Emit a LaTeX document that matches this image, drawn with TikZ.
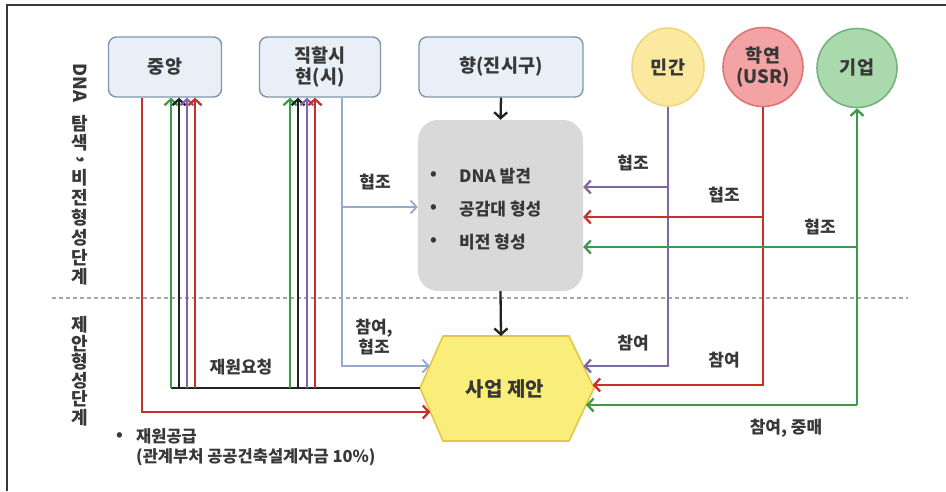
\documentclass[tikz,border=0pt]{standalone}
\usepackage{fontspec}
\setmainfont{Noto Sans CJK KR}
\usepackage{graphicx}
\usetikzlibrary{arrows.meta,shapes.geometric}
\definecolor{cred}{HTML}{C8302C}
\definecolor{cgreen}{HTML}{3E9A48}
\definecolor{cpurple}{HTML}{8066A8}
\definecolor{cblue}{HTML}{93AACA}
\definecolor{cblack}{HTML}{222222}
\definecolor{txt}{HTML}{383838}
\definecolor{boxfill}{HTML}{E9EFF7}
\definecolor{boxdraw}{HTML}{8096AE}
\definecolor{grayfill}{HTML}{D9D9D9}
\definecolor{hexfill}{HTML}{FAEE7A}
\definecolor{hexdraw}{HTML}{E6C34A}
\definecolor{yfill}{HTML}{FBE9A0}
\definecolor{ydraw}{HTML}{F0D67E}
\definecolor{rfill}{HTML}{F3A3A3}
\definecolor{rdraw}{HTML}{DE7474}
\definecolor{gfill}{HTML}{AAD9AE}
\definecolor{gdraw}{HTML}{74B47C}
\begin{document}
\begin{tikzpicture}[x=1pt,y=-1pt,
  boxnode/.style={draw=boxdraw,fill=boxfill,line width=1.4pt,rounded corners=8pt,minimum height=60pt,align=center,font=\bfseries\fontsize{18.5}{21}\selectfont,text=txt,inner sep=0pt},
  circ/.style={ellipse,line width=1.6pt,minimum width=80pt,minimum height=79pt,inner sep=0pt,align=center,font=\bfseries\fontsize{18.5}{21}\selectfont,text=txt},
  lab/.style={font=\bfseries\fontsize{17}{20}\selectfont,text=txt,inner sep=0pt,align=center},
  btext/.style={font=\bfseries\fontsize{17}{19}\selectfont,text=txt,inner sep=0pt,anchor=west},
  vch/.style={font=\bfseries\fontsize{18}{20}\selectfont,text=txt,inner sep=0pt},
  conn/.style={line width=2.3pt},
  arr/.style={-{Straight Barb[length=6pt,width=13pt]}},
]
\useasboundingbox (0,0) rectangle (946,491);
% frame
\draw[line width=2pt,txt] (946,5) -- (7,5) -- (7,491);
% dotted separator
\draw[line width=1.6pt,gray!70,dash pattern=on 4pt off 3pt] (52,298) -- (908,298);

% top nodes
\node[boxnode,minimum width=113pt] (jung) at (165,67) {중앙};
\node[boxnode,minimum width=121pt] (jik) at (320,67) {직할시\\현(시)};
\node[boxnode,minimum width=164pt] (hyang) at (501,67) {향(진시구)};
\node[circ,draw=ydraw,fill=yfill,minimum width=72pt,minimum height=78pt] (min) at (668,67) {민간};
\node[circ,draw=rdraw,fill=rfill] (hak) at (763,67) {학연\\(USR)};
\node[circ,draw=gdraw,fill=gfill] (gi) at (857,68) {기업};

% gray box
\node[fill=grayfill,rounded corners=20pt,minimum width=165pt,minimum height=171pt,inner sep=0pt] (gray) at (500.5,205.5) {};
\node[btext] (b1) at (430,176) {•};
\node[btext] (b2) at (430,209) {•};
\node[btext] (b3) at (430,242) {•};
\node[btext] (t1) at (459,176) {DNA 발견};
\node[btext] (t2) at (459,209) {공감대 형성};
\node[btext] (t3) at (459,242) {비전 형성};

% hexagon
\coordinate (hL) at (420,388);
\coordinate (hTL) at (443,336);
\coordinate (hTR) at (569,336);
\coordinate (hR) at (594,388);
\coordinate (hBR) at (569,441);
\coordinate (hBL) at (443,441);
\draw[draw=hexdraw,fill=hexfill,line width=1.6pt,line join=round] (hL) -- (hTL) -- (hTR) -- (hR) -- (hBR) -- (hBL) -- cycle;
\node[font=\bfseries\fontsize{20}{23}\selectfont,text=txt,inner sep=0pt] (hex) at (505,389) {사업 제안};
\coordinate (hTop) at (501,336);

% vertical stage labels
\node[vch,rotate=-90] (va) at (80,83) {DNA};
\foreach \c/\y [count=\i] in {탐/124,색/143,비/178,전/198,형/218,성/238,단/258,계/277}
  \node[vch] (vb\i) at (80,\y) {\c};
\node[vch,rotate=-90] (vc) at (80,160) {,};
\foreach \c/\y [count=\i] in {제/325,안/343.5,형/362,성/380.5,단/399,계/417.5}
  \node[vch] (vd\i) at (80,\y) {\c};

% central black arrows
\draw[conn,cblack,arr] (hyang.south) -- (gray.north);
\draw[conn,cblack,arr] (gray.south) -- (hTop);

% left side: funding request lines
\coordinate (lb) at (171,388);
\draw[conn,cblack] (hL) -- (lb);
\coordinate (u1) at (171,388);
\coordinate (u2) at (179,388);
\coordinate (u3) at (187,388);
\coordinate (u4) at (195,388);
\coordinate (u5) at (290,388);
\coordinate (u6) at (298,388);
\coordinate (u7) at (307,388);
\coordinate (u8) at (315,388);
\draw[conn,cgreen,arr] (u1) -- (u1 |- jung.south);
\draw[conn,cblack,arr] (u2) -- (u2 |- jung.south);
\draw[conn,cpurple,arr] (u3) -- (u3 |- jung.south);
\draw[conn,cred,arr] (u4) -- (u4 |- jung.south);
\draw[conn,cgreen,arr] (u5) -- (u5 |- jik.south);
\draw[conn,cblack,arr] (u6) -- (u6 |- jik.south);
\draw[conn,cpurple,arr] (u7) -- (u7 |- jik.south);
\draw[conn,cred,arr] (u8) -- (u8 |- jik.south);

% funding supply (red) from 중앙
\coordinate (hRedL) at (430.4,412);
\draw[conn,cred,arr] ([xshift=-23pt]jung.south) |- (hRedL);

% blue from 직할시
\coordinate (hBlue) at (429.7,366);
\coordinate (jb) at (342,207);
\draw[line width=1.8pt,cblue,arr] ([xshift=22pt]jik.south) |- (hBlue);
\draw[line width=1.8pt,cblue,arr] (jb) -- (jb -| gray.west);

% right side
\coordinate (hPur) at (583.4,366);
\coordinate (hRedR) at (592.6,385);
\coordinate (hGrn) at (586,405);
\coordinate (pb) at (668,187);
\coordinate (rb) at (763,217);
\coordinate (gb) at (857,247);
\coordinate (gc) at (857,405);
\draw[conn,cpurple,arr] (min.south) |- (hPur);
\draw[conn,cpurple,arr] (pb) -- (pb -| gray.east);
\draw[conn,cred,arr] (hak.south) |- (hRedR);
\draw[conn,cred,arr] (rb) -- (rb -| gray.east);
\draw[conn,cgreen,arr] (gc) -- (gi.south);
\draw[conn,cgreen,arr] (gc) -- (hGrn);
\draw[conn,cgreen,arr] (gb) -- (gb -| gray.east);

% labels
\node[lab] (l1) at (375,182) {협조};
\node[lab] (l2) at (374,337) {참여,\\협조};
\node[lab] (l3) at (241,367) {재원요청};
\node[lab] (l4) at (633,163) {협조};
\node[lab] (l5) at (724,195) {협조};
\node[lab] (l6) at (820,227) {협조};
\node[lab] (l7) at (633,343) {참여};
\node[lab] (l8) at (724,360) {참여};
\node[lab] (l9) at (786,428) {참여, 중매};

% bottom note
\node[btext] (nb) at (116,437) {•};
\node[lab,anchor=west,align=left,font=\bfseries\fontsize{16.5}{20}\selectfont] (note) at (136,447) {재원공급\\(관계부처 공공건축설계자금 10\%)};
\end{tikzpicture}
\end{document}
